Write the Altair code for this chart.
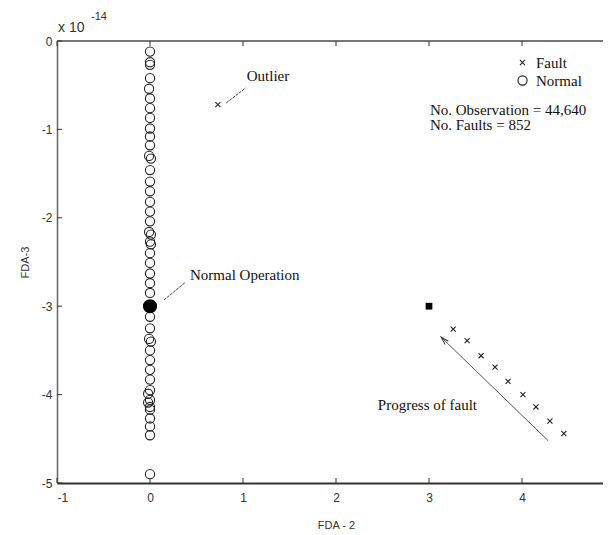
import altair as alt
import pandas as pd

# ---- data ----
normal_y = [-0.12, -0.24, -0.27, -0.42, -0.54, -0.65, -0.76, -0.87, -0.99, -1.08, -1.18,
            -1.30, -1.33, -1.46, -1.59, -1.70, -1.82, -1.93, -2.04, -2.16, -2.19, -2.27,
            -2.30, -2.40, -2.51, -2.63, -2.74, -2.85, -3.12, -3.25, -3.37, -3.40, -3.50,
            -3.61, -3.72, -3.83, -3.95, -3.99, -4.06, -4.09, -4.14, -4.17, -4.27, -4.36,
            -4.46, -4.90]
normal_x = [0.0, 0.0, 0.0, 0.0, -0.01, 0.0, 0.0, 0.0, 0.0, 0.0, 0.0,
            -0.01, 0.01, 0.0, 0.0, 0.0, 0.0, 0.0, 0.0, -0.01, 0.01, 0.0,
            0.01, 0.0, 0.0, 0.0, 0.0, 0.0, 0.0, 0.0, -0.01, 0.01, 0.0,
            0.0, 0.0, 0.0, 0.0, -0.02, 0.0, -0.02, 0.0, 0.0, 0.0, 0.0,
            0.0, 0.0]
fault_x = [0.73, 3.26, 3.41, 3.56, 3.71, 3.85, 4.01, 4.15, 4.30, 4.45]
fault_y = [-0.72, -3.26, -3.39, -3.56, -3.69, -3.85, -4.00, -4.14, -4.30, -4.44]

normal_op_x = [0.0]
normal_op_y = [-3.0]
fault_start_x = [3.0]
fault_start_y = [-3.0]

ann_text = ["Outlier", "Normal Operation", "Progress of fault",
            "No. Observation = 44,640", "No. Faults = 852"]
ann_x = [1.04, 0.43, 2.45, 3.01, 3.01]
ann_y = [-0.40, -2.65, -4.12, -0.78, -0.95]

lead_x = [0.82, 0.15]
lead_y = [-0.70, -2.93]
lead_x2 = [1.03, 0.38]
lead_y2 = [-0.53, -2.73]

arrow_x = [4.28]
arrow_y = [-4.52]
arrow_x2 = [3.13]
arrow_y2 = [-3.35]

x_ticks = [-1, 0, 1, 2, 3, 4, 5]
y_ticks = [0, -1, -2, -3, -4, -5]

FULL_W = 558   # plot width of the original figure (runs past the page edge)
W, H = 546, 442
SERIF = "Liberation Serif"
SANS = "Liberation Sans"
XPATH = "M-0.55,-0.55L0.55,0.55M-0.55,0.55L0.55,-0.55"

xs = alt.Scale(domain=[-1, 5], range=[0, FULL_W], nice=False, zero=False)
ys = alt.Scale(domain=[-5, 0], nice=False, zero=False)

ax_x = alt.Axis(
    title="FDA - 2", values=x_ticks, ticks=False, grid=False,
    labelExpr="'' + datum.value", labelFont=SANS, labelFontSize=12,
    labelColor="#333", labelPadding=9, titleFont=SANS, titleFontSize=11,
    titleFontWeight="normal", titleColor="#333", titlePadding=16,
    domainColor="#333", domainWidth=2)
ax_y = alt.Axis(
    title="FDA-3", values=y_ticks, ticks=False, grid=False,
    labelExpr="'' + datum.value", labelFont=SANS, labelFontSize=12,
    labelColor="#333", labelPadding=5, titleFont=SANS, titleFontSize=11,
    titleFontWeight="normal", titleColor="#333", titlePadding=11,
    domainColor="#666", domainWidth=1.5)


def X(field):
    return alt.X(field, scale=xs, axis=ax_x, title="FDA - 2")


def Y(field):
    return alt.Y(field, scale=ys, axis=ax_y, title="FDA-3")


pts = pd.DataFrame({
    "x": normal_x + fault_x,
    "y": normal_y + fault_y,
    "series": ["Normal"] * len(normal_x) + ["Fault"] * len(fault_x),
})

base_pts = alt.Chart(pts).mark_point(filled=False, size=85, strokeWidth=1.1, opacity=1,
                                     color="#222").encode(
    x=X("x:Q"),
    y=Y("y:Q"),
    shape=alt.Shape("series:N", scale=alt.Scale(domain=["Fault", "Normal"], range=[XPATH, "circle"]),
                    legend=alt.Legend(title=None, orient="none", legendX=458, legendY=14,
                                      padding=0, labelFont=SERIF, labelFontSize=15,
                                      labelColor="#111", symbolStrokeColor="#222",
                                      symbolStrokeWidth=1.1, symbolSize=85, rowPadding=2,
                                      labelOffset=6)),
)

nop = alt.Chart(pd.DataFrame({"x": normal_op_x, "y": normal_op_y})).mark_point(
    filled=True, opacity=1, color="black", shape="circle", size=200).encode(
    x=X("x:Q"), y=Y("y:Q"))
fst = alt.Chart(pd.DataFrame({"x": fault_start_x, "y": fault_start_y})).mark_point(
    filled=True, opacity=1, color="black", shape="square", size=45).encode(
    x=X("x:Q"), y=Y("y:Q"))

ann = pd.DataFrame({"t": ann_text, "x": ann_x, "y": ann_y})
ann_layer = alt.Chart(ann).mark_text(font=SERIF, fontSize=15, align="left",
                                     baseline="middle", color="#111").encode(
    x=X("x:Q"), y=Y("y:Q"), text="t:N")

lead = pd.DataFrame({"x": lead_x, "y": lead_y, "x2": lead_x2, "y2": lead_y2})
lead_layer = alt.Chart(lead).mark_rule(color="#444", strokeWidth=1, strokeDash=[3, 1]).encode(
    x=X("x:Q"), y=Y("y:Q"), x2="x2:Q", y2="y2:Q")

arr = pd.DataFrame({"x": arrow_x, "y": arrow_y, "x2": arrow_x2, "y2": arrow_y2})
arrow_line = alt.Chart(arr).mark_rule(color="#555", strokeWidth=1).encode(
    x=X("x:Q"), y=Y("y:Q"), x2="x2:Q", y2="y2:Q")
arrow_head = alt.Chart(arr).mark_point(shape="M-0.45,1.6L0,0L0.45,1.6", filled=False,
                                      size=100, angle=315, color="#333", strokeWidth=1,
                                      opacity=1).encode(
    x=X("x2:Q"), y=Y("y2:Q"))

xt = pd.DataFrame({"v": x_ticks})
yt = pd.DataFrame({"v": y_ticks})
tick_style = dict(color="#333", strokeWidth=1)
bottom_ticks = alt.Chart(xt).mark_rule(**tick_style).encode(
    x=X("v:Q"), y=alt.value(H), y2=alt.value(H - 5))
top_ticks = alt.Chart(xt).mark_rule(**tick_style).encode(
    x=X("v:Q"), y=alt.value(0), y2=alt.value(5))
left_ticks = alt.Chart(yt).mark_rule(**tick_style).encode(
    y=Y("v:Q"), x=alt.value(0), x2=alt.value(5))
right_ticks = alt.Chart(yt).mark_rule(**tick_style).encode(
    y=Y("v:Q"), x=alt.value(FULL_W - 5), x2=alt.value(FULL_W))
top_line = alt.Chart(xt).mark_rule(color="#777", strokeWidth=1.5).encode(
    x=alt.value(0), x2=alt.value(FULL_W), y=alt.value(0))

exp_main = alt.Chart(pd.DataFrame({"t": ["x 10"]})).mark_text(
    font=SANS, fontSize=14, align="left", baseline="middle", color="#333").encode(
    text="t:N", x=alt.value(1), y=alt.value(-13))
exp_sup = alt.Chart(pd.DataFrame({"t": ["-14"]})).mark_text(
    font=SANS, fontSize=11, align="left", baseline="middle", color="#333").encode(
    text="t:N", x=alt.value(34), y=alt.value(-24))

chart = alt.layer(
    base_pts, top_line, bottom_ticks, top_ticks, left_ticks, right_ticks,
    lead_layer, arrow_line, arrow_head, nop, fst, ann_layer, exp_main, exp_sup,
).properties(
    width=W, height=H,
    autosize=alt.AutoSizeParams(type="none"),
    padding={"left": 49, "top": 33, "right": 0, "bottom": 52},
).configure_view(stroke=None).configure(background="white")

chart.save("out.html", embed_options={"renderer": "svg", "actions": False})
